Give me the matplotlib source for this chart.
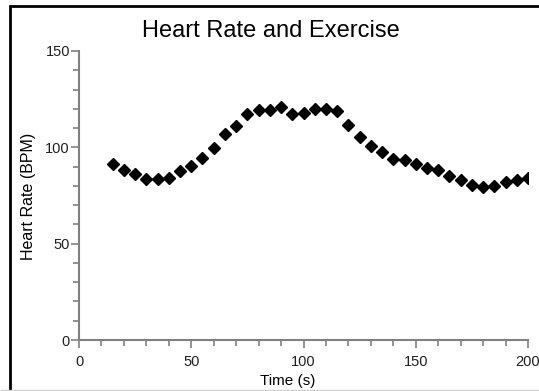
import matplotlib.pyplot as plt
from matplotlib.patches import Rectangle
from matplotlib.ticker import MultipleLocator

plt.rcParams['font.family'] = ['Liberation Sans Narrow', 'Liberation Sans', 'DejaVu Sans']

time_s = [15, 20, 25, 30, 35, 40, 45, 50, 55, 60, 65, 70, 75, 80, 85, 90, 95, 100,
          105, 110, 115, 120, 125, 130, 135, 140, 145, 150, 155, 160, 165, 170, 175,
          180, 185, 190, 195, 200]
heart_rate = [91.2, 88.1, 86.4, 83.8, 83.8, 84.3, 87.7, 90.2, 94.5, 99.7, 107.1, 110.9,
              117.1, 119.5, 119.5, 120.9, 117.1, 117.8, 120.0, 120.0, 118.8, 111.4,
              105.3, 100.5, 97.6, 94.1, 93.3, 91.5, 89.5, 88.1, 85.3, 83.2, 80.3, 79.4,
              79.8, 81.9, 83.2, 84.3]

W, H = 539, 391
fig = plt.figure(figsize=(W / 100, H / 100), dpi=100)
ax = fig.add_axes([79 / W, 1 - 340 / H, 449 / W, 289 / H])

ax.plot(time_s, heart_rate, linestyle='none', marker='D', markersize=6,
        color='black')

ax.set_xlim(0, 200)
ax.set_ylim(0, 150)
ax.xaxis.set_major_locator(MultipleLocator(50))
ax.xaxis.set_minor_locator(MultipleLocator(10))
ax.yaxis.set_major_locator(MultipleLocator(50))
ax.yaxis.set_minor_locator(MultipleLocator(10))

grey = '#808080'
for s in ['top', 'right']:
    ax.spines[s].set_visible(False)
for s in ['left', 'bottom']:
    ax.spines[s].set_color(grey)
    ax.spines[s].set_linewidth(1.5)
ax.tick_params(which='major', length=6, width=1.2, color=grey, labelsize=10.5,
               labelcolor='#202020', pad=0.5)
ax.tick_params(which='minor', length=4, width=1.2, color=grey)
ax.tick_params(axis='x', which='major', pad=5)

fig.text(271 / W, 1 - 31 / H, 'Heart Rate and Exercise', ha='center',
         va='center', fontsize=17, family=['Liberation Sans', 'DejaVu Sans'])
fig.text(288 / W, 1 - 381 / H, 'Time (s)', ha='center', va='center', fontsize=11)
fig.text(29 / W, 1 - 196 / H, 'Heart Rate (BPM)', ha='center', va='center',
         rotation=90, fontsize=11.5)

# window-like frame
fig.patches.append(Rectangle((10 / W, -0.05), 1.1, 1 - 5.5 / H + 0.05,
                             transform=fig.transFigure, fill=False,
                             edgecolor='black', linewidth=2))
fig.patches.append(Rectangle((0, 1 - 390 / H), 1, 0, transform=fig.transFigure,
                             fill=False, edgecolor='#d0d0d0', linewidth=1))

fig.savefig('out.png', dpi=100)
